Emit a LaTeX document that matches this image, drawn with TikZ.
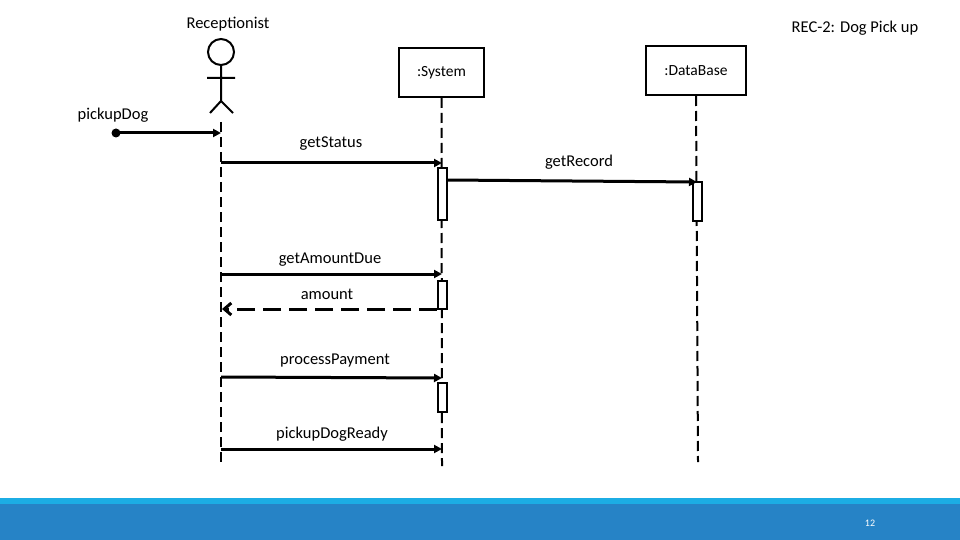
\documentclass[tikz,border=0pt]{standalone}
\usepackage{fontspec}
\setmainfont{Carlito}
\usetikzlibrary{arrows.meta}
\definecolor{lb}{HTML}{1CADE4}
\definecolor{db}{HTML}{2683C6}
\begin{document}
\begin{tikzpicture}[x=1pt,y=-1pt,
  life/.style={line width=2pt,dash pattern=on 10pt off 5pt},
  msg/.style={line width=3pt,-{Triangle[length=8pt,width=8pt]}},
  ret/.style={line width=3pt,dash pattern=on 18pt off 8pt,-{Straight Barb[length=7pt,width=12pt]}},
  obj/.style={draw,line width=2pt,minimum width=#1,minimum height=49pt,font=\fontsize{15.5}{18}\selectfont},
  act/.style={draw,fill=white,line width=2pt,minimum width=9pt},
  lbl/.style={font=\fontsize{16.5}{19}\selectfont}]
\useasboundingbox (0,0) rectangle (960,540);
\fill[lb] (0,498) rectangle (960,504);
\fill[db] (0,504) rectangle (960,540);
\node[white,font=\fontsize{10}{11}\selectfont] (pg) at (870,523) {12};
\node[lbl] (rec) at (228,24) {Receptionist};
\node[lbl] (title) at (855,28) {REC-2: Dog Pick up};
% actor
\draw[line width=2pt] (221,52) circle (13);
\draw[line width=2pt] (221,65) -- (221,101) (207,78) -- (235,78) (210,113) -- (221,101) -- (233,113);
% objects
\node[obj=85pt] (sys) at (441.5,72.5) {:System};
\node[obj=100pt] (dbn) at (696,70.5) {:DataBase};
\coordinate (aTop) at (221,122); \coordinate (aBot) at (221,462);
\coordinate (sBot) at (442,466); \coordinate (dBot) at (698,462);
\draw[life] (aTop) -- (aBot);
\draw[life] (sys.south) -- (sBot);
\draw[life] (dbn.south) -- (dBot);
% activations
\node[act,minimum height=52pt] (s1) at (442,194) {};
\node[act,minimum height=28pt] (s2) at (442,295) {};
\node[act,minimum height=29pt] (s3) at (442,397.5) {};
\node[act,minimum height=39pt] (d1) at (697.5,201.5) {};
% messages
\coordinate (st) at (116,133);
\fill (st) circle (4.5);
\coordinate (a1) at (221,133);
\draw[msg] (st) -- (a1);
\node[lbl] (l0) at (113,115) {pickupDog};
\draw[msg] (221,163) -- (442,163);
\node[lbl] (l1) at (331,144) {getStatus};
\draw[msg] (447,180) -- (697,182);
\node[lbl] (l2) at (579,162) {getRecord};
\draw[msg] (221,274) -- (442,274);
\node[lbl] (l3) at (330,260) {getAmountDue};
\draw[ret] (437,309) -- (222,309);
\node[lbl] (l4) at (327,294) {amount};
\draw[msg] (221,377) -- (442,378);
\node[lbl] (l5) at (335,361) {processPayment};
\draw[msg] (221,449) -- (442,449);
\node[lbl] (l6) at (332,434) {pickupDogReady};
\end{tikzpicture}
\end{document}
